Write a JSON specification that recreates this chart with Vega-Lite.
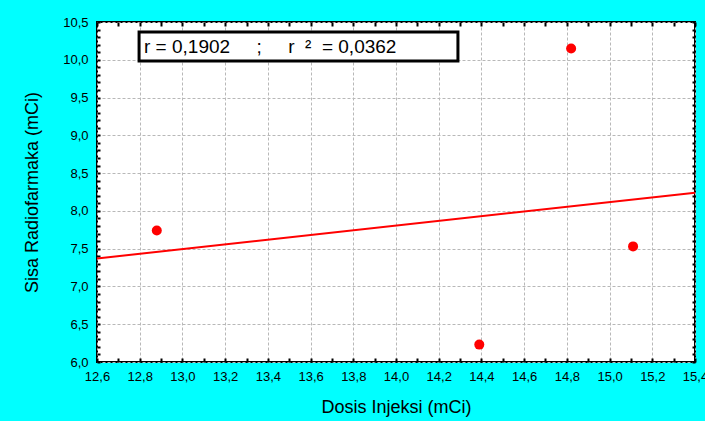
{
  "$schema": "https://vega.github.io/schema/vega-lite/v6.json",
  "width": 598,
  "height": 340,
  "autosize": {"type": "none"},
  "padding": {"left": 97, "top": 22, "right": 10, "bottom": 59},
  "background": "#00FFFF",
  "config": {
    "view": {"fill": "white", "stroke": "black", "strokeWidth": 2},
    "font": "Liberation Sans"
  },
  "datasets": {
    "points": [
      {"dose": 12.88, "sisa": 7.74},
      {"dose": 14.39, "sisa": 6.23},
      {"dose": 14.82, "sisa": 10.15},
      {"dose": 15.11, "sisa": 7.53}
    ],
    "fit": [
      {"dose": 12.6, "sisa": 7.37},
      {"dose": 15.4, "sisa": 8.24}
    ],
    "note": [
      {"x1": 12.797, "x2": 14.29, "y1": 10.368, "y2": 9.984, "tx": 12.82, "ty": 10.17, "label": "r = 0,1902\u00a0\u00a0\u00a0\u00a0\u00a0;\u00a0\u00a0\u00a0\u00a0\u00a0r\u00a0\u00a0\u00b2\u00a0\u00a0= 0,0362"}
    ]
  },
  "layer": [
    {
      "data": {"name": "note"},
      "mark": {"type": "rect", "fill": "white", "stroke": "black", "strokeWidth": 3},
      "encoding": {
        "x": {
          "field": "x1", "type": "quantitative",
          "scale": {"domain": [12.6, 15.4], "nice": false, "zero": false},
          "axis": {
            "orient": "bottom",
            "values": [12.6,12.8,13.0,13.2,13.4,13.6,13.8,14.0,14.2,14.4,14.6,14.8,15.0,15.2,15.4],
            "labels": false, "ticks": false, "domain": false, "title": null,
            "grid": true, "gridColor": "#b8b8b8", "gridDash": [3, 2], "gridWidth": 1
          }
        },
        "x2": {"field": "x2"},
        "y": {
          "field": "y1", "type": "quantitative",
          "scale": {"domain": [6, 10.5], "nice": false, "zero": false},
          "axis": {
            "orient": "left",
            "values": [6.0,6.5,7.0,7.5,8.0,8.5,9.0,9.5,10.0,10.5],
            "labels": false, "ticks": false, "domain": false, "title": null,
            "grid": true, "gridColor": "#b8b8b8", "gridDash": [3, 2], "gridWidth": 1
          }
        },
        "y2": {"field": "y2"}
      }
    },
    {
      "data": {"name": "points"},
      "mark": {"type": "point", "filled": true, "shape": "circle", "size": 100, "color": "#FF0000", "opacity": 1},
      "encoding": {
        "x": {
          "field": "dose", "type": "quantitative",
          "axis": {
            "orient": "bottom",
            "values": [12.6,12.7,12.8,12.9,13.0,13.1,13.2,13.3,13.4,13.5,13.6,13.7,13.8,13.9,14.0,14.1,14.2,14.3,14.4,14.5,14.6,14.7,14.8,14.9,15.0,15.1,15.2,15.3,15.4],
            "labelExpr": "round(datum.value*10)%2==0 ? replace(format(datum.value,'.1f'),'.',',') : ''",
            "labelOverlap": false,
            "labelFlush": false,
            "labelFontSize": 13,
            "labelColor": "black",
            "labelPadding": 12,
            "domain": false,
            "tickSize": -4,
            "tickWidth": 2,
            "tickColor": "black",
            "grid": false,
            "title": "Dosis Injeksi (mCi)",
            "titleFontSize": 18,
            "titleFontWeight": "normal",
            "titleColor": "black",
            "titlePadding": 15
          }
        },
        "y": {
          "field": "sisa", "type": "quantitative",
          "axis": {
            "orient": "left",
            "values": [6.0,6.1,6.2,6.3,6.4,6.5,6.6,6.7,6.8,6.9,7.0,7.1,7.2,7.3,7.4,7.5,7.6,7.7,7.8,7.9,8.0,8.1,8.2,8.3,8.4,8.5,8.6,8.7,8.8,8.9,9.0,9.1,9.2,9.3,9.4,9.5,9.6,9.7,9.8,9.9,10.0,10.1,10.2,10.3,10.4,10.5],
            "labelExpr": "round(datum.value*10)%5==0 ? replace(format(datum.value,'.1f'),'.',',') : ''",
            "labelOverlap": false,
            "labelFlush": false,
            "labelFontSize": 13,
            "labelColor": "black",
            "labelPadding": 12,
            "domain": false,
            "tickSize": -3,
            "tickWidth": 2,
            "tickColor": "black",
            "grid": false,
            "title": "Sisa Radiofarmaka (mCi)",
            "titleFontSize": 18,
            "titleFontWeight": "normal",
            "titleColor": "black",
            "titlePadding": 21
          }
        }
      }
    },
    {
      "data": {"name": "fit"},
      "mark": {"type": "line", "color": "#FF0000", "strokeWidth": 2},
      "encoding": {
        "x": {
          "field": "dose", "type": "quantitative",
          "axis": {
            "orient": "top",
            "values": [12.6,12.7,12.8,12.9,13.0,13.1,13.2,13.3,13.4,13.5,13.6,13.7,13.8,13.9,14.0,14.1,14.2,14.3,14.4,14.5,14.6,14.7,14.8,14.9,15.0,15.1,15.2,15.3,15.4],
            "labels": false, "grid": false, "domain": false,
            "tickSize": -4, "tickWidth": 2, "tickColor": "black", "title": null
          }
        },
        "y": {
          "field": "sisa", "type": "quantitative",
          "axis": {
            "orient": "right",
            "values": [6.0,6.1,6.2,6.3,6.4,6.5,6.6,6.7,6.8,6.9,7.0,7.1,7.2,7.3,7.4,7.5,7.6,7.7,7.8,7.9,8.0,8.1,8.2,8.3,8.4,8.5,8.6,8.7,8.8,8.9,9.0,9.1,9.2,9.3,9.4,9.5,9.6,9.7,9.8,9.9,10.0,10.1,10.2,10.3,10.4,10.5],
            "labels": false, "grid": false, "domain": false,
            "tickSize": -3, "tickWidth": 2, "tickColor": "black", "title": null
          }
        }
      }
    },
    {
      "data": {"name": "note"},
      "mark": {"type": "text", "align": "left", "baseline": "middle", "fontSize": 19, "color": "black"},
      "encoding": {
        "x": {"field": "tx", "type": "quantitative", "axis": null},
        "y": {"field": "ty", "type": "quantitative", "axis": null},
        "text": {"field": "label"}
      }
    }
  ],
  "resolve": {"axis": {"x": "independent", "y": "independent"}}
}
